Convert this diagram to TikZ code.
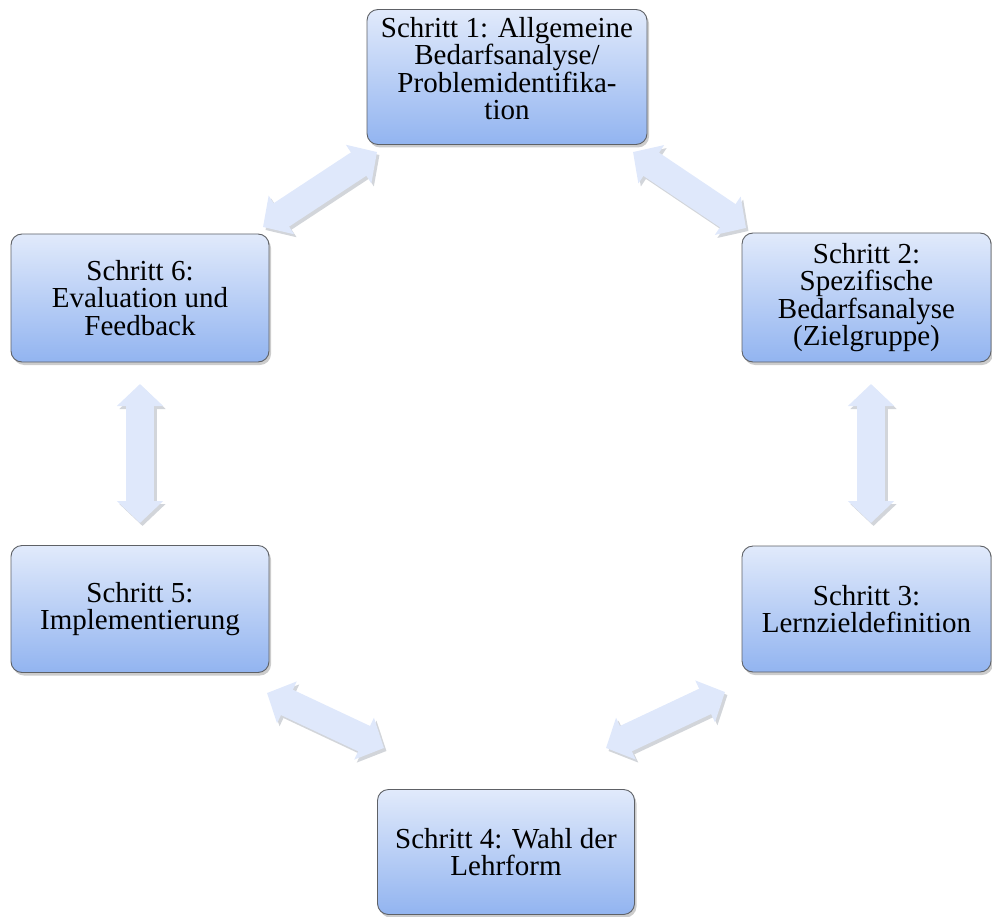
\documentclass[tikz,border=0pt]{standalone}
\usepackage{fontspec}
\setmainfont{Liberation Serif}
\usetikzlibrary{arrows.meta,shadows}
\definecolor{boxtop}{HTML}{E1EAFB}
\definecolor{boxbot}{HTML}{92B4F0}
\definecolor{boxline}{HTML}{5E6166}
\definecolor{arrowc}{HTML}{DFE8FB}
\definecolor{arrowsh}{HTML}{D2D5DA}
\begin{document}
\begin{tikzpicture}[x=1pt,y=-1pt,
  stepbox/.style={draw=boxline, line width=0.9pt, rounded corners=11pt,
    top color=boxtop, bottom color=boxbot, align=center,
    font=\fontsize{29}{27.5}\selectfont, inner sep=3pt,
    drop shadow={opacity=0.4,shadow xshift=2pt,shadow yshift=-3pt}},
  dtip/.style={{Triangle[width=45pt,length=22pt]}-{Triangle[width=45pt,length=22pt]}},
  dbl/.style={dtip, line width=28pt, draw=arrowc, fill=arrowc},
  dblsh/.style={dtip, line width=28pt, draw=arrowsh, fill=arrowsh}]
\useasboundingbox (0,0) rectangle (992,917);

\node[stepbox, minimum width=280pt, minimum height=135pt, text depth=17pt] (n1) at (507,77)
  {Schritt 1: Allgemeine\\Bedarfsanalyse/\\Problemidentifika-\\tion};
\node[stepbox, minimum width=249pt, minimum height=129pt] (n2) at (866.5,297.5)
  {Schritt 2:\\Spezifische\\Bedarfsanalyse\\(Zielgruppe)};
\node[stepbox, minimum width=249pt, minimum height=126pt] (n3) at (866.5,609)
  {Schritt 3:\\Lernzieldefinition};
\node[stepbox, minimum width=257pt, minimum height=125pt] (n4) at (506,852)
  {Schritt 4: Wahl der\\Lehrform};
\node[stepbox, minimum width=258pt, minimum height=127pt] (n5) at (140,609)
  {Schritt 5:\\Implementierung};
\node[stepbox, minimum width=258pt, minimum height=128pt] (n6) at (140,298)
  {Schritt 6:\\Evaluation und\\Feedback};

\coordinate (a16a) at (377,152);
\coordinate (a16b) at (263,227);
\coordinate (a12a) at (633,152);
\coordinate (a12b) at (746,228);
\coordinate (a23a) at (871,384);
\coordinate (a23b) at (871,523);
\coordinate (a65a) at (140,384);
\coordinate (a65b) at (140,523);
\coordinate (a54a) at (267,693);
\coordinate (a54b) at (384,748);
\coordinate (a34a) at (725,692);
\coordinate (a34b) at (606,748);

\foreach \p/\q in {a16a/a16b,a12a/a12b,a23a/a23b,a65a/a65b,a54a/a54b,a34a/a34b}{
  \draw[dblsh, transform canvas={xshift=2.5pt,yshift=-3pt}] (\p) -- (\q);
  \draw[dbl] (\p) -- (\q);
}
\end{tikzpicture}
\end{document}
